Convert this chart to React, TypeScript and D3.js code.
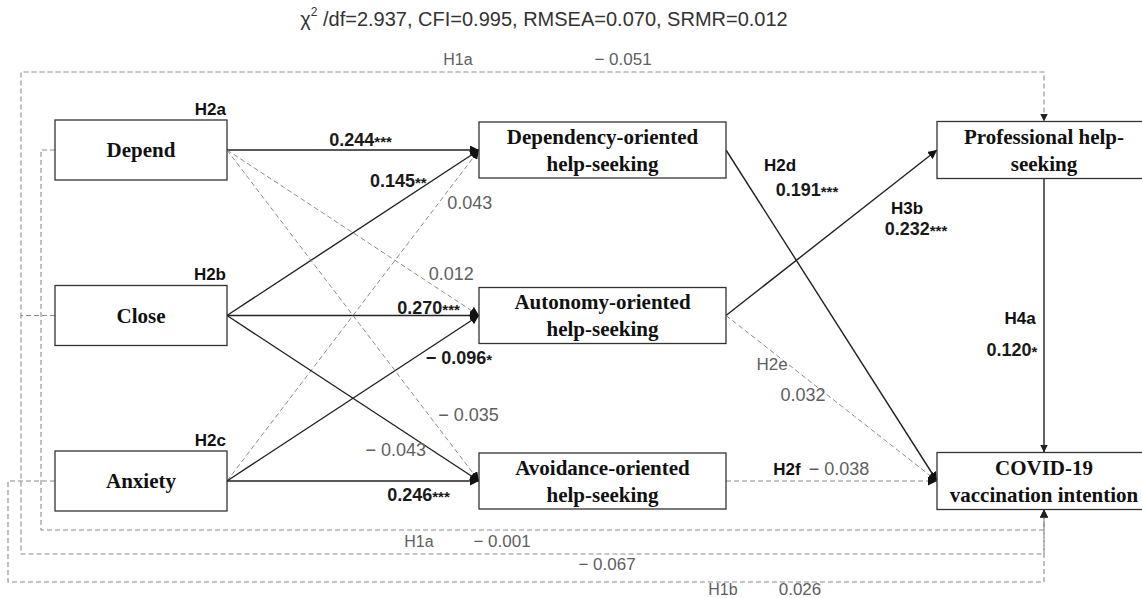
import React from "react";
import * as d3 from "d3";

// fit indices shown on top
const fitNames = ["CFI", "RMSEA", "SRMR"];
const fitValues = [0.995, 0.07, 0.012];
const chiDf = 2.937;

// nodes
const predictors = ["Depend", "Close", "Anxiety"];
const predictorHyp = ["H2a", "H2b", "H2c"];
const mediators = [
  ["Dependency-oriented", "help-seeking"],
  ["Autonomy-oriented", "help-seeking"],
  ["Avoidance-oriented", "help-seeking"],
];
const outcomes = [
  ["Professional help-", "seeking"],
  ["COVID-19", "vaccination intention"],
];
const outcomeRows = [0, 2];

// paths: predictor -> mediator
const predMedPaths = [
  { id: "p00", from: 0, to: 0, value: 0.244, stars: "***", sig: true },
  { id: "p10", from: 1, to: 0, value: 0.145, stars: "**", sig: true },
  { id: "p20", from: 2, to: 0, value: 0.043, stars: "", sig: false },
  { id: "p01", from: 0, to: 1, value: 0.012, stars: "", sig: false },
  { id: "p11", from: 1, to: 1, value: 0.27, stars: "***", sig: true },
  { id: "p21", from: 2, to: 1, value: -0.096, stars: "*", sig: true },
  { id: "p02", from: 0, to: 2, value: -0.035, stars: "", sig: false },
  { id: "p12", from: 1, to: 2, value: -0.043, stars: "", sig: true },
  { id: "p22", from: 2, to: 2, value: 0.246, stars: "***", sig: true },
];

// paths: mediator -> outcome
const medOutPaths = [
  { id: "m01", from: 0, to: 1, value: 0.191, stars: "***", sig: true, hyp: "H2d" },
  { id: "m10", from: 1, to: 0, value: 0.232, stars: "***", sig: true, hyp: "H3b" },
  { id: "m11", from: 1, to: 1, value: 0.032, stars: "", sig: false, hyp: "H2e" },
  { id: "m21", from: 2, to: 1, value: -0.038, stars: "", sig: false, hyp: "H2f" },
];

// outcome -> outcome
const outOutPaths = [{ id: "o01", from: 0, to: 1, value: 0.12, stars: "*", sig: true, hyp: "H4a" }];

// direct predictor -> outcome paths (dashed loops)
const directPaths = [
  { id: "d10", from: 1, to: 0, value: -0.051, hyp: "H1a" },
  { id: "d01", from: 0, to: 1, value: -0.001, hyp: "H1a" },
  { id: "d11", from: 1, to: 1, value: -0.067, hyp: "" },
  { id: "d21", from: 2, to: 1, value: 0.026, hyp: "H1b" },
];

// ---- layout ----
const W = 1142;
const H = 598;
const rowY = d3.scaleLinear().domain([0, 2]).range([150, 481]);
const predCol = { x: 55, w: 172, h: 60 };
const medCol = { x: 479, w: 247, h: 56 };
const outCol = { x: 937, w: 214, h: 57 };

// label placement along path: t, dx, dy (label centre)
const labelAt: Record<string, { t: number; dx: number; dy: number }> = {
  p00: { t: 0.53, dx: 0, dy: -10 },
  p10: { t: 0.68, dx: 0, dy: -22 },
  p20: { t: 0.84, dx: 31, dy: 0 },
  p01: { t: 0.89, dx: 0, dy: -23 },
  p11: { t: 0.8, dx: 0, dy: -8 },
  p21: { t: 0.92, dx: 0, dy: 29 },
  p02: { t: 0.8, dx: 40, dy: 0 },
  p12: { t: 0.67, dx: 0, dy: 24 },
  p22: { t: 0.76, dx: 0, dy: 14 },
};
const hypAt: Record<string, { hx: number; hy: number; vx: number; vy: number; hypBold: boolean }> = {
  m01: { hx: 54, hy: 15, vx: 81, vy: 40, hypBold: true },
  m10: { hx: 181, hy: -107, vx: 190, vy: -87, hypBold: true },
  m11: { hx: 46, hy: 49, vx: 77, vy: 79, hypBold: false },
  m21: { hx: 61, hy: -12, vx: 113, vy: -12, hypBold: true },
  o01: { hx: -24, hy: 140, vx: -32, vy: 171, hypBold: true },
};
const laneX = [41, 21, 8];
const directLayout: Record<string, { laneY: number; hx: number; vx: number; ly: number }> = {
  d10: { laneY: 72, hx: 458, vx: 623, ly: -13 },
  d01: { laneY: 530, hx: 419, vx: 502, ly: 11 },
  d11: { laneY: 554, hx: 0, vx: 607, ly: 10 },
  d21: { laneY: 582, hx: 723, vx: 800, ly: 7 },
};

const SANS = "'Liberation Sans', Arial, sans-serif";
const SERIF = "'Liberation Serif', 'Times New Roman', serif";
const GRAY_TXT = "#606060";
const DASH = "#8c8c8c";

const fmt = (v: number) => (v < 0 ? "\u2212 " + Math.abs(v).toFixed(3) : v.toFixed(3));

type Box = { x: number; y: number; w: number; h: number };
const predBox = (i: number): Box => ({ x: predCol.x, y: rowY(i) - predCol.h / 2, w: predCol.w, h: predCol.h });
const medBox = (i: number): Box => ({ x: medCol.x, y: rowY(i) - medCol.h / 2, w: medCol.w, h: medCol.h });
const outBox = (j: number): Box => ({
  x: outCol.x,
  y: rowY(outcomeRows[j]) - outCol.h / 2,
  w: outCol.w,
  h: outCol.h,
});
const cx = (b: Box) => b.x + b.w / 2;
const cy = (b: Box) => b.y + b.h / 2;

function Coef({ x, y, value, stars, bold }: { x: number; y: number; value: number; stars: string; bold: boolean }) {
  return (
    <text
      x={x}
      y={y}
      textAnchor="middle"
      dominantBaseline="central"
      fontFamily={SANS}
      fontSize={18}
      fontWeight={bold ? "bold" : "normal"}
      fill={bold ? "#1a1a1a" : GRAY_TXT}
    >
      {fmt(value)}
      {stars && (
        <tspan fontSize={15} dy={1}>
          {stars}
        </tspan>
      )}
    </text>
  );
}

function NodeBox({ b, lines, tx }: { b: Box; lines: string[]; tx: number }) {
  const lh = 27;
  const y0 = cy(b) - ((lines.length - 1) * lh) / 2;
  return (
    <g>
      <rect x={b.x} y={b.y} width={b.w} height={b.h} fill="#fff" stroke="#333" strokeWidth={1.3} />
      {lines.map((l, i) => (
        <text
          key={i}
          x={tx}
          y={y0 + i * lh}
          textAnchor="middle"
          dominantBaseline="central"
          fontFamily={SERIF}
          fontWeight="bold"
          fontSize={21}
          fill="#111"
        >
          {l}
        </text>
      ))}
    </g>
  );
}

export default function App() {
  const line = d3.line();
  const lerp = (a: [number, number], b: [number, number], t: number): [number, number] => [
    a[0] + (b[0] - a[0]) * t,
    a[1] + (b[1] - a[1]) * t,
  ];

  return (
    <svg width={W} height={H} style={{ position: "absolute", left: 0, top: 0, background: "#fff" }}>
      <defs>
        <marker id="arr" viewBox="0 0 10 10" refX={10} refY={5} markerWidth={9} markerHeight={9} markerUnits="userSpaceOnUse" orient="auto">
          <path d="M0,0 L10,5 L0,10 z" fill="#111" />
        </marker>
        <marker id="arrs" viewBox="0 0 10 10" refX={10} refY={5} markerWidth={8} markerHeight={8} markerUnits="userSpaceOnUse" orient="auto">
          <path d="M0,0 L10,5 L0,10 z" fill="#222" />
        </marker>
      </defs>

      {/* title */}
      <text x={544} y={19} textAnchor="middle" dominantBaseline="central" fontFamily={SANS} fontSize={20} fill="#333">
        χ<tspan fontSize={12} dy={-7}>2</tspan>
        <tspan dy={7}>{" /df=" + chiDf.toFixed(3) + ", " + fitNames.map((n, i) => `${n}=${fitValues[i].toFixed(3)}`).join(", ")}</tspan>
      </text>

      {/* direct dashed loops */}
      {directPaths.map((p) => {
        const L = directLayout[p.id];
        const src = predBox(p.from);
        const lx = laneX[p.from];
        const tgt = outBox(p.to);
        const tx = cx(tgt);
        const endY = p.to === 0 ? tgt.y : tgt.y + tgt.h;
        const pts: [number, number][] = [
          [src.x, cy(src)],
          [lx, cy(src)],
          [lx, L.laneY],
          [tx, L.laneY],
          [tx, endY],
        ];
        return (
          <g key={p.id}>
            <path d={line(pts) || ""} fill="none" stroke={DASH} strokeWidth={1.1} strokeDasharray="5,3" markerEnd="url(#arrs)" />
            {p.hyp && (
              <text x={L.hx} y={L.laneY + L.ly} textAnchor="middle" dominantBaseline="central" fontFamily={SANS} fontSize={16} fill={GRAY_TXT}>
                {p.hyp}
              </text>
            )}
            <text x={L.vx} y={L.laneY + L.ly} textAnchor="middle" dominantBaseline="central" fontFamily={SANS} fontSize={17} fill={GRAY_TXT}>
              {fmt(p.value)}
            </text>
          </g>
        );
      })}

      {/* predictor -> mediator */}
      {predMedPaths.map((p) => {
        const s = predBox(p.from);
        const t = medBox(p.to);
        const a: [number, number] = [s.x + s.w, cy(s)];
        const b: [number, number] = [t.x, cy(t)];
        return (
          <path
            key={p.id}
            d={line([a, b]) || ""}
            fill="none"
            stroke={p.sig ? "#222" : DASH}
            strokeWidth={p.sig ? 1.4 : 1}
            strokeDasharray={p.sig ? undefined : "5,3"}
            markerEnd="url(#arr)"
          />
        );
      })}

      {/* mediator -> outcome */}
      {medOutPaths.map((p) => {
        const s = medBox(p.from);
        const t = outBox(p.to);
        const a: [number, number] = [s.x + s.w, cy(s)];
        const b: [number, number] = [t.x, cy(t)];
        return (
          <path
            key={p.id}
            d={line([a, b]) || ""}
            fill="none"
            stroke={p.sig ? "#222" : DASH}
            strokeWidth={p.sig ? 1.4 : 1}
            strokeDasharray={p.sig ? undefined : "5,3"}
            markerEnd="url(#arr)"
          />
        );
      })}

      {/* outcome -> outcome */}
      {outOutPaths.map((p) => {
        const s = outBox(p.from);
        const t = outBox(p.to);
        return (
          <path
            key={p.id}
            d={line([
              [cx(s), s.y + s.h],
              [cx(t), t.y],
            ]) || ""}
            fill="none"
            stroke="#222"
            strokeWidth={1.4}
            markerEnd="url(#arrs)"
          />
        );
      })}

      {/* boxes */}
      {predictors.map((n, i) => {
        const b = predBox(i);
        return (
          <g key={n}>
            <NodeBox b={b} lines={[n]} tx={cx(b)} />
            <text x={b.x + b.w - 1} y={b.y - 11} textAnchor="end" dominantBaseline="central" fontFamily={SANS} fontWeight="bold" fontSize={17} fill="#111">
              {predictorHyp[i]}
            </text>
          </g>
        );
      })}
      {mediators.map((n, i) => {
        const b = medBox(i);
        return <NodeBox key={i} b={b} lines={n} tx={cx(b)} />;
      })}
      {outcomes.map((n, j) => {
        const b = outBox(j);
        return <NodeBox key={j} b={b} lines={n} tx={cx(b)} />;
      })}

      {/* predictor -> mediator labels */}
      {predMedPaths.map((p) => {
        const s = predBox(p.from);
        const t = medBox(p.to);
        const L = labelAt[p.id];
        const [x, y] = lerp([s.x + s.w, cy(s)], [t.x, cy(t)], L.t);
        return <Coef key={p.id} x={x + L.dx} y={y + L.dy} value={p.value} stars={p.stars} bold={p.stars !== ""} />;
      })}

      {/* mediator/outcome labels */}
      {[...medOutPaths, ...outOutPaths].map((p) => {
        const L = hypAt[p.id];
        const isMed = p.id.startsWith("m");
        const s = isMed ? medBox(p.from) : outBox(p.from);
        const ox = isMed ? s.x + s.w : cx(s);
        const oy = isMed ? cy(s) : s.y + s.h;
        const bold = p.stars !== "";
        return (
          <g key={p.id + "l"}>
            <text
              x={ox + L.hx}
              y={oy + L.hy}
              textAnchor="middle"
              dominantBaseline="central"
              fontFamily={SANS}
              fontSize={17}
              fontWeight={L.hypBold ? "bold" : "normal"}
              fill={L.hypBold ? "#111" : GRAY_TXT}
            >
              {p.hyp}
            </text>
            <Coef x={ox + L.vx} y={oy + L.vy} value={p.value} stars={p.stars} bold={bold} />
          </g>
        );
      })}
    </svg>
  );
}
